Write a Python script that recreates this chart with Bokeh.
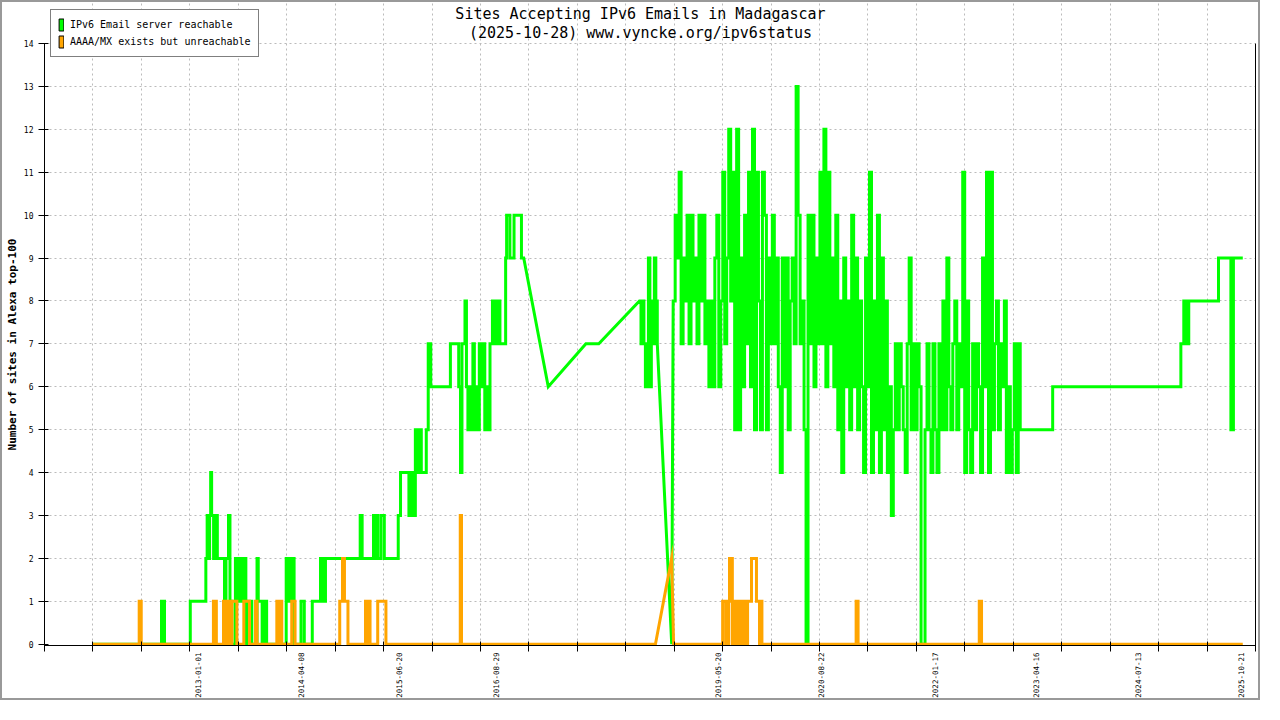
import math
import pandas as pd
from bokeh.plotting import figure
from bokeh.models import (Range1d, FixedTicker, LinearAxis, Grid, Legend, LegendItem, Label, Title)
from bokeh.embed import file_html
from bokeh.resources import INLINE

# ---------------- data (time as decimal years) ----------------
# "IPv6 Email server reachable" -- readings 2011-2016 (value changes)
reach_early_t = [2011.711, 2012.552, 2012.589, 2012.905, 2013.096, 2013.112, 2013.130, 2013.142, 2013.155, 2013.167,
                 2013.191, 2013.203, 2013.237, 2013.325, 2013.343, 2013.374, 2013.392, 2013.416, 2013.459, 2013.477,
                 2013.495, 2013.514, 2013.532, 2013.550, 2013.574, 2013.587, 2013.623, 2013.660, 2013.724, 2013.739,
                 2013.787, 2013.812, 2013.842, 2014.082, 2014.098, 2014.116, 2014.134, 2014.152, 2014.179, 2014.264,
                 2014.304, 2014.402, 2014.503, 2014.517, 2014.536, 2014.548, 2014.564, 2014.990, 2015.014, 2015.153,
                 2015.168, 2015.187, 2015.205, 2015.245, 2015.286, 2015.457, 2015.485, 2015.588, 2015.619, 2015.649,
                 2015.667, 2015.704, 2015.722, 2015.740, 2015.801, 2015.825, 2015.856, 2016.097, 2016.199, 2016.221,
                 2016.239, 2016.276, 2016.294, 2016.312, 2016.336, 2016.355, 2016.373, 2016.391, 2016.409, 2016.434,
                 2016.452, 2016.470, 2016.501, 2016.519, 2016.543, 2016.562, 2016.583, 2016.613, 2016.635, 2016.647,
                 2016.665, 2016.677, 2016.705, 2016.775, 2016.787, 2016.827, 2016.878, 2016.969]
reach_early_v = [0, 1, 0, 1, 2, 3, 2, 3, 4, 3,
                 2, 3, 2, 1, 2, 3, 1, 0, 2, 1,
                 2, 1, 2, 1, 2, 0, 1, 0, 2, 1,
                 0, 1, 0, 2, 1, 2, 1, 2, 0, 1,
                 0, 1, 2, 1, 2, 1, 2, 3, 2, 3,
                 2, 3, 2, 3, 2, 3, 4, 3, 4, 3,
                 5, 4, 5, 4, 5, 7, 6, 7, 6, 4,
                 7, 8, 6, 5, 6, 5, 7, 5, 6, 5,
                 7, 6, 7, 5, 6, 5, 7, 8, 7, 8,
                 7, 8, 7, 9, 10, 9, 10, 9]
# sparse readings 2017-2018 (joined by straight lines)
reach_gap_t = [2016.997, 2017.298, 2017.760, 2017.918]
reach_gap_v = [9, 6, 7, 7]
# readings mid 2018
reach_mid_t = [2018.417, 2018.436, 2018.454, 2018.472, 2018.490, 2018.509, 2018.527, 2018.545, 2018.563,
               2018.582, 2018.600, 2018.618, 2018.636]
reach_mid_v = [8, 7, 8, 7, 6, 7, 9, 6, 8, 7, 9, 8, 7]
reach_drop_t = [2018.813]
reach_drop_v = [0]
# dense readings late 2018 - early 2023 (one reading every ~9 days)
reach_dense_start = 2018.831
reach_dense_step = 0.024336
reach_dense_v = [8, 10, 9, 11, 7, 9, 8, 10, 7, 10,
                 8, 9, 7, 10, 8, 10, 7, 8, 6, 8,
                 6, 9, 10, 6, 8, 11, 7, 9, 12, 8,
                 11, 5, 12, 5, 9, 6, 10, 7, 11, 6,
                 12, 5, 11, 8, 5, 11, 10, 5, 9, 7,
                 10, 7, 9, 6, 4, 9, 6, 9, 5, 8,
                 9, 7, 13, 10, 7, 8, 5, 0, 10, 7,
                 10, 6, 9, 7, 11, 7, 12, 6, 11, 7,
                 9, 6, 10, 5, 8, 4, 9, 6, 8, 5,
                 10, 6, 9, 5, 8, 6, 4, 9, 6, 11,
                 4, 8, 5, 10, 4, 9, 5, 8, 4, 6,
                 3, 5, 7, 5, 7, 6, 5, 4, 7, 9,
                 5, 7, 5, 7, 6, 0, 0, 5, 7, 5,
                 4, 7, 5, 4, 7, 5, 8, 5, 9, 6,
                 5, 7, 8, 5, 7, 6, 11, 4, 8, 5,
                 4, 7, 5, 7, 6, 4, 9, 6, 11, 4,
                 11, 5, 7, 8, 5, 7, 6, 8, 4, 6,
                 4, 5, 7, 4, 7, 5]
# readings 2023-2025 (value changes)
reach_late_t = [2023.114, 2023.488, 2025.061, 2025.097, 2025.134, 2025.158, 2025.523, 2025.675, 2025.706, 2025.821]
reach_late_v = [5, 6, 7, 8, 7, 8, 9, 5, 9, 9]

# "AAAA/MX exists but unreachable"
unreach_early_t = [2011.711, 2012.278, 2012.303, 2013.189, 2013.225, 2013.313, 2013.331, 2013.349, 2013.367, 2013.386,
                   2013.404, 2013.416, 2013.477, 2013.562, 2013.632, 2013.705, 2013.724, 2013.967, 2013.988, 2014.006,
                   2014.028, 2014.150, 2014.191, 2014.739, 2014.773, 2014.797, 2014.840, 2015.055, 2015.071, 2015.089,
                   2015.111, 2015.205, 2015.306, 2016.218, 2016.233, 2018.613]
unreach_early_v = [0, 1, 0, 1, 0, 1, 0, 1, 0, 1,
                   0, 1, 0, 1, 0, 1, 0, 1, 0, 1,
                   0, 1, 0, 1, 2, 1, 0, 1, 0, 1,
                   0, 1, 0, 3, 0, 0]
unreach_ramp_t = [2018.812]
unreach_ramp_v = [2]
unreach_late_t = [2018.836, 2019.438, 2019.476, 2019.512, 2019.522, 2019.557, 2019.591, 2019.610, 2019.622, 2019.646,
                  2019.658, 2019.695, 2019.713, 2019.731, 2019.744, 2019.792, 2019.853, 2019.890, 2019.902, 2019.920,
                  2021.076, 2021.100, 2022.587, 2022.615, 2025.821]
unreach_late_v = [0, 1, 0, 1, 2, 0, 1, 0, 1, 0,
                  1, 0, 1, 0, 1, 2, 1, 0, 1, 0,
                  1, 0, 1, 0, 0]

x_label_dates = ["2013-01-01", "2014-04-08", "2015-06-20", "2016-08-29", "2019-05-20",
                 "2020-08-22", "2022-01-17", "2023-04-16", "2024-07-13", "2025-10-21"]
y_ticks = list(range(0, 15))

title_1 = "Sites Accepting IPv6 Emails in Madagascar"
title_2 = "(2025-10-28) www.vyncke.org/ipv6status"
y_label = "Number of sites in Alexa top-100"
legend_labels = ["IPv6 Email server reachable", "AAAA/MX exists but unreachable"]

GREEN = "#00ff00"
ORANGE = "#ffa500"
FONT = "DejaVu Sans Mono"


# ---------------- helpers ----------------
def steps(ts, vs):
    xs, ys = [ts[0]], [vs[0]]
    for i in range(1, len(ts)):
        xs += [ts[i], ts[i]]
        ys += [vs[i - 1], vs[i]]
    return xs, ys


def dec_year(s):
    t = pd.Timestamp(s)
    a = pd.Timestamp(year=t.year, month=1, day=1)
    b = pd.Timestamp(year=t.year + 1, month=1, day=1)
    return t.year + (t - a) / (b - a)


# build reachable line
gx, gy = steps(reach_early_t, reach_early_v)
gx += reach_gap_t; gy += reach_gap_v
sx, sy = steps(reach_mid_t, reach_mid_v); gx += sx; gy += sy
gx += reach_drop_t; gy += reach_drop_v
dense_t = [reach_dense_start + i * reach_dense_step for i in range(len(reach_dense_v))]
sx, sy = steps(dense_t, reach_dense_v); gx += sx; gy += sy
sx, sy = steps(reach_late_t, reach_late_v); gx += sx; gy += sy

# build unreachable line
ox, oy = steps(unreach_early_t, unreach_early_v)
ox += unreach_ramp_t; oy += unreach_ramp_v
sx, sy = steps(unreach_late_t, unreach_late_v); ox += sx; oy += sy

# ---------------- layout constants (pixels) ----------------
W, H = 1260, 700
LEFT, RIGHT, BOTTOM = 42, 7, 57
FRAME_W = W - LEFT - RIGHT
FRAME_H = H - BOTTOM
TOP14 = 41                       # pixel row of value 14 (from figure top)
Y0 = -0.03
PX_PER_UNIT = (FRAME_H - TOP14) / (14 - Y0)
Y_TOP = 14 + TOP14 / PX_PER_UNIT

x0, x1 = 2011.116, 2025.977
n_int = 25
regular = [x0 + k * (x1 - x0) / n_int for k in range(n_int + 1)]
label_pos = [dec_year(d) for d in x_label_dates]


def y_at(py):
    return 14 + (TOP14 - py) / PX_PER_UNIT


def x_at(px):
    return x0 + (px - LEFT) / FRAME_W * (x1 - x0)


p = figure(width=W, height=H, output_backend="svg", toolbar_location=None,
           x_range=Range1d(x0, x1), y_range=Range1d(Y0, Y_TOP),
           x_axis_type=None, y_axis_type=None,
           min_border_left=LEFT, min_border_right=RIGHT, min_border_top=0, min_border_bottom=BOTTOM)
p.outline_line_color = None
p.background_fill_color = "white"
p.border_fill_color = "white"
p.styles = {"border": "2px solid #999999"}

# grids
p.add_layout(Grid(dimension=0, ticker=FixedTicker(ticks=regular[1:-1]), bounds=(0, 14),
                  grid_line_color="#bbbbbb", grid_line_dash="2 3", grid_line_width=1))
p.add_layout(Grid(dimension=1, ticker=FixedTicker(ticks=y_ticks[1:]),
                  grid_line_color="#bbbbbb", grid_line_dash="2 3", grid_line_width=1))

# left axis
yax = LinearAxis(ticker=FixedTicker(ticks=y_ticks), bounds=(0, 14))
yax.axis_line_color = "black"
yax.major_tick_line_color = "black"
yax.major_tick_in = 4
yax.major_tick_out = 6
yax.minor_tick_line_color = None
yax.major_label_text_font = FONT
yax.major_label_text_font_size = "8px"
yax.major_label_text_color = "black"
yax.major_label_standoff = 5
p.add_layout(yax, "left")

# y-axis title, centred on the 0..14 span (anchored from the bottom of the panel)
ylab_len = len(y_label) * 11 * 0.602
ylab_offset = FRAME_H - ((FRAME_H + TOP14) / 2 + ylab_len / 2)
p.add_layout(Title(text=y_label, align="left", text_font=FONT, text_font_size="11px",
                   text_font_style="bold", text_color="black", standoff=3,
                   offset=ylab_offset), "left")

# bottom axis: regular tick marks, date labels
xax = LinearAxis(ticker=FixedTicker(ticks=label_pos, minor_ticks=regular),
                 major_label_overrides={pos: lab for pos, lab in zip(label_pos, x_label_dates)})
xax.axis_line_color = "black"
xax.major_tick_in = 0
xax.major_tick_out = 0
xax.minor_tick_in = 4
xax.minor_tick_out = 6
xax.minor_tick_line_color = "black"
xax.major_label_orientation = math.pi / 2
xax.major_label_text_font = FONT
xax.major_label_text_font_size = "7.5px"
xax.major_label_text_color = "black"
xax.major_label_standoff = 1
p.add_layout(xax, "below")

# right axis line
rax = LinearAxis(ticker=FixedTicker(ticks=[]), bounds=(0, 14))
rax.axis_line_color = "black"
rax.major_tick_out = 0
rax.major_tick_in = 0
rax.major_label_standoff = 0
rax.major_label_text_font_size = "0px"
p.add_layout(rax, "right")

# titles
for txt, py in ((title_1, 11), (title_2, 30)):
    p.add_layout(Label(x=x_at(638), y=y_at(py), text=txt, text_align="center", text_baseline="middle",
                       text_font=FONT, text_font_size="15px", text_color="black"))

# data lines
p.line(gx, gy, line_color=GREEN, line_width=3, line_join="miter")
p.line(ox, oy, line_color=ORANGE, line_width=3, line_join="miter")

# legend (swatch renderers carry no visible data)
nan = float("nan")
lg = p.quad(left=[nan], right=[nan], top=[nan], bottom=[nan], fill_color=GREEN, line_color="black")
lo = p.quad(left=[nan], right=[nan], top=[nan], bottom=[nan], fill_color=ORANGE, line_color="black")
legend = Legend(items=[LegendItem(label=legend_labels[0], renderers=[lg]),
                       LegendItem(label=legend_labels[1], renderers=[lo])],
                location=(6, FRAME_H - 55), orientation="vertical")
legend.glyph_width = 6
legend.glyph_height = 15
legend.label_height = 15
legend.spacing = 2
legend.padding = 7
legend.margin = 0
legend.label_standoff = 6
legend.label_text_font = FONT
legend.label_text_font_size = "10px"
legend.label_text_color = "black"
legend.border_line_color = "black"
legend.border_line_width = 1
legend.background_fill_color = "white"
legend.background_fill_alpha = 1
p.add_layout(legend)

open("out.html", "w").write(file_html(p, INLINE))
